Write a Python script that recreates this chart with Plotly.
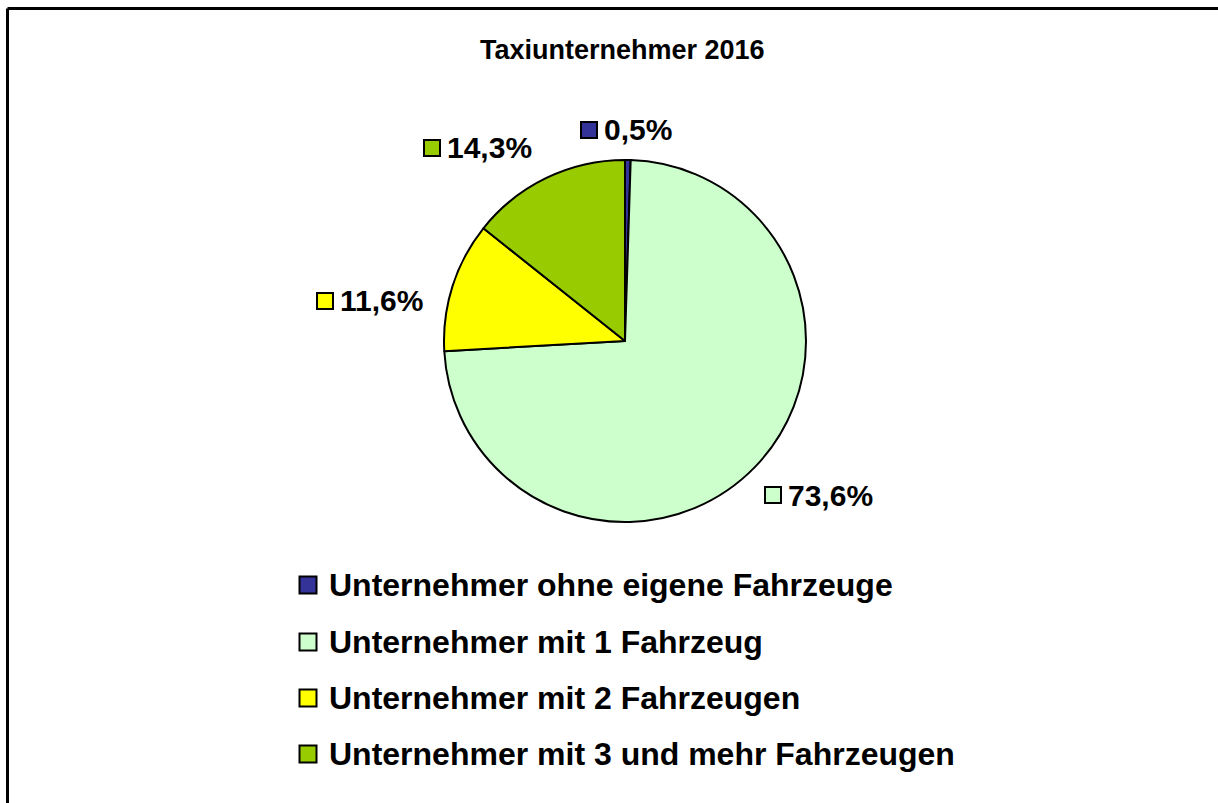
import plotly.graph_objects as go

W, H = 1218, 803

title_text = "Taxiunternehmer 2016"
categories = [
    "Unternehmer ohne eigene Fahrzeuge",
    "Unternehmer mit 1 Fahrzeug",
    "Unternehmer mit 2 Fahrzeugen",
    "Unternehmer mit 3 und mehr Fahrzeugen",
]
shares = [0.5, 73.6, 11.6, 14.3]
colors = ["#333399", "#CCFFCC", "#FFFF00", "#99CC00"]

# layout positions (pixels) for the outside data labels: square-centre x, y
label_pos = [(589, 130), (773, 495), (325, 301), (432, 148)]
legend_x = 308
legend_y = [585, 642, 698, 754]

FONT = "Liberation Sans, Arial, sans-serif"


def px(x):
    return x / W


def py(y):
    return 1 - y / H


cx, cy, r = 625, 341, 181

fig = go.Figure()
fig.add_trace(go.Pie(
    labels=categories,
    values=shares,
    sort=False,
    direction="clockwise",
    rotation=0,
    marker=dict(colors=colors, line=dict(color="black", width=2)),
    textinfo="none",
    hoverinfo="label+percent",
    showlegend=False,
    domain=dict(x=[px(cx - r), px(cx + r)], y=[py(cy + r), py(cy - r)]),
))

shapes = []
annotations = []

# outer frame (only top and left edges visible in the reference)
shapes.append(dict(type="line", xref="paper", yref="paper",
                   x0=px(7.5), x1=1.0, y0=py(8.5), y1=py(8.5),
                   line=dict(color="black", width=3)))
shapes.append(dict(type="line", xref="paper", yref="paper",
                   x0=px(7.5), x1=px(7.5), y0=py(8.5), y1=0.0,
                   line=dict(color="black", width=3)))

annotations.append(dict(text="<b>" + title_text + "</b>", x=px(622), y=py(50),
                        xref="paper", yref="paper", showarrow=False,
                        xanchor="center", yanchor="middle",
                        font=dict(family=FONT, size=27, color="black")))

sq = 16
for (lx, ly), v, c in zip(label_pos, shares, colors):
    shapes.append(dict(type="rect", xref="paper", yref="paper",
                       x0=px(lx - sq / 2), x1=px(lx + sq / 2),
                       y0=py(ly + sq / 2), y1=py(ly - sq / 2),
                       fillcolor=c, line=dict(color="black", width=2)))
    annotations.append(dict(text="<b>" + f"{v:.1f}".replace(".", ",") + "%</b>",
                            x=px(lx + sq / 2 + 5), y=py(ly), xref="paper", yref="paper",
                            showarrow=False, xanchor="left", yanchor="middle",
                            font=dict(family=FONT, size=30, color="black")))

lsq = 17
for name, c, ly in zip(categories, colors, legend_y):
    shapes.append(dict(type="rect", xref="paper", yref="paper",
                       x0=px(legend_x - lsq / 2), x1=px(legend_x + lsq / 2),
                       y0=py(ly + lsq / 2), y1=py(ly - lsq / 2),
                       fillcolor=c, line=dict(color="black", width=2)))
    annotations.append(dict(text="<b>" + name + "</b>",
                            x=px(legend_x + lsq / 2 + 10), y=py(ly), xref="paper", yref="paper",
                            showarrow=False, xanchor="left", yanchor="middle",
                            font=dict(family=FONT, size=32, color="black")))

fig.update_layout(
    width=W, height=H,
    margin=dict(l=0, r=0, t=0, b=0),
    paper_bgcolor="white",
    plot_bgcolor="white",
    shapes=shapes,
    annotations=annotations,
    showlegend=False,
)

fig.write_html("out.html")
